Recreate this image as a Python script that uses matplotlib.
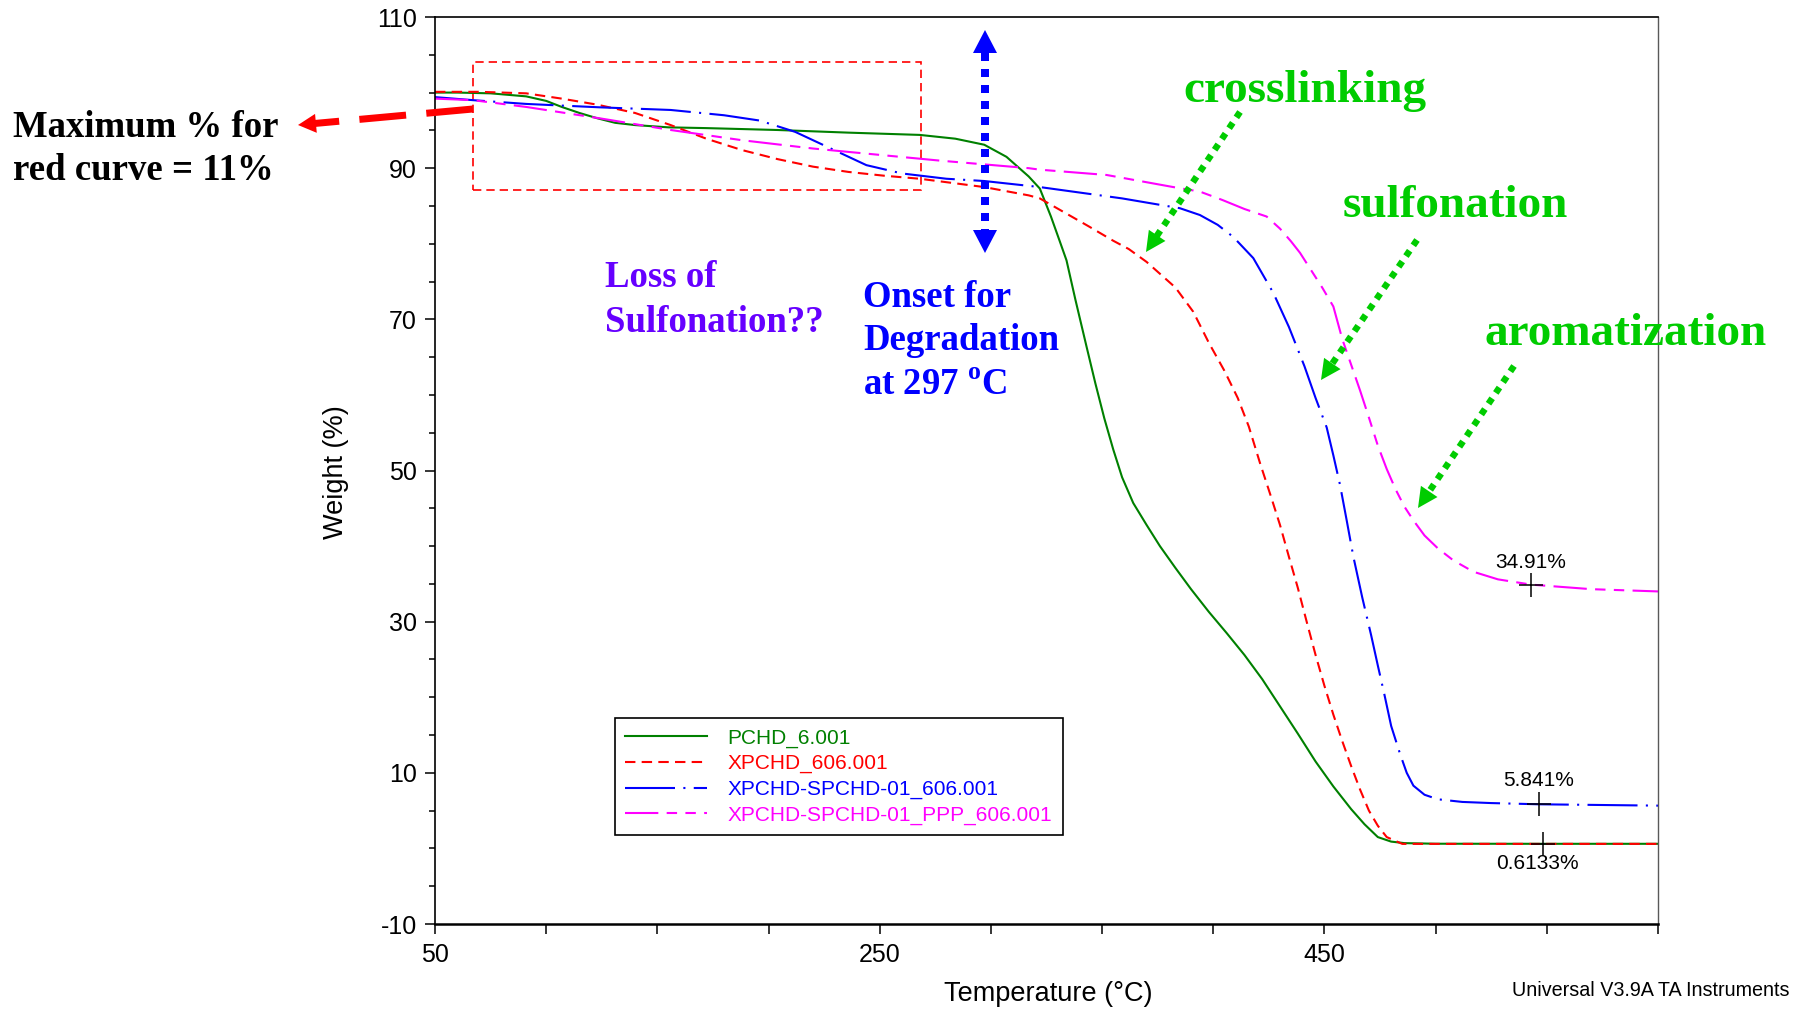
import matplotlib
matplotlib.use('Agg')
import matplotlib.pyplot as plt
from matplotlib.lines import Line2D
from matplotlib.patches import Polygon, Rectangle
import numpy as np

plt.rcParams['font.family'] = 'Liberation Sans'
plt.rcParams['axes.unicode_minus'] = False
plt.rcParams['mathtext.fontset'] = 'custom'
plt.rcParams['mathtext.rm'] = 'Liberation Serif'
plt.rcParams['mathtext.bf'] = 'Liberation Serif:bold'

W, H = 1805, 1011

# ---- data (temperature degC, weight %) ----
pchd_T = [50, 60, 75, 91, 100, 107, 115, 123, 131, 140, 155, 172, 204, 236, 268, 284,
          297, 307, 317, 322, 327, 331, 334, 338, 343, 347, 351, 355, 359, 364, 370, 376,
          383, 390, 398, 406, 414, 422, 430, 438, 446, 454, 462, 468, 474, 480, 486, 500,
          548, 600]
pchd_W = [100.0, 100.0, 99.9, 99.5, 98.9, 98.1, 97.3, 96.6, 96.0, 95.7, 95.4, 95.3, 95.05,
          94.7, 94.4, 93.9, 93.1, 91.5, 88.9, 87.3, 83.6, 80.3, 77.8, 72.6, 66.4, 61.5,
          56.9, 52.8, 49.1, 45.7, 42.8, 40.0, 37.1, 34.3, 31.3, 28.5, 25.6, 22.4, 18.8,
          15.2, 11.5, 8.2, 5.2, 3.2, 1.5, 0.9, 0.7, 0.62, 0.61, 0.61]

xpchd_T = [50, 70, 91, 107, 123, 140, 156, 172, 188, 204, 220, 236, 252, 268, 297, 317,
           322, 344, 355, 362, 370, 383, 391, 398, 405, 411, 416, 421, 426, 430, 434, 438,
           442, 446, 450, 454, 458, 462, 466, 470, 474, 478, 485, 500, 548, 600]
xpchd_W = [100.1, 100.1, 99.9, 99.2, 98.4, 97.3, 95.7, 93.9, 92.4, 91.2, 90.2, 89.5, 89.0,
           88.6, 87.5, 86.4, 86.0, 82.3, 80.4, 79.3, 77.6, 74.2, 71.0, 66.9, 63.2, 59.6,
           55.8, 51.0, 46.5, 42.8, 38.6, 34.5, 30.0, 25.6, 21.5, 17.7, 14.2, 10.9, 7.8,
           5.0, 3.0, 1.5, 0.6, 0.6, 0.6, 0.6]

spchd_T = [50, 67, 91, 124, 156, 180, 196, 212, 228, 244, 260, 280, 297, 322, 359, 385,
           394, 402, 409, 418, 427, 434, 441, 446, 451, 454, 457, 460, 463, 467, 471, 474,
           477, 480, 484, 487, 490, 495, 501, 512, 525, 546, 600]
spchd_W = [99.4, 99.0, 98.5, 98.05, 97.7, 97.0, 96.3, 94.8, 92.6, 90.4, 89.3, 88.6, 88.3,
           87.5, 86.0, 84.7, 83.8, 82.5, 80.9, 78.1, 73.5, 69.0, 63.8, 59.6, 55.7, 52.0,
           48.1, 43.4, 38.6, 33.2, 28.2, 24.2, 20.3, 16.2, 12.5, 10.0, 8.3, 7.1, 6.5, 6.15,
           6.0, 5.84, 5.66]

ppp_T = [50, 67, 91, 124, 156, 188, 220, 252, 277, 297, 317, 322, 352, 382, 394, 404,
         414, 424, 430, 435, 439, 444, 449, 454, 458, 462, 466, 470, 474, 478, 482, 486,
         490, 495, 501, 508, 517, 528, 543, 570, 600]
ppp_W = [99.2, 99.0, 98.1, 96.6, 95.05, 93.7, 92.6, 91.7, 91.0, 90.5, 90.0, 89.8, 89.1,
         87.5, 86.9, 85.8, 84.6, 83.6, 82.0, 80.3, 78.8, 76.5, 74.2, 71.7, 67.4, 64.0,
         60.6, 57.0, 53.3, 50.2, 47.5, 45.2, 43.4, 41.4, 39.7, 38.1, 36.6, 35.6, 34.9,
         34.3, 34.0]

series_names = ['PCHD_6.001', 'XPCHD_606.001', 'XPCHD-SPCHD-01_606.001',
                'XPCHD-SPCHD-01_PPP_606.001']

marker_T = [542.9, 546.3, 548.1]
marker_W = [34.9, 5.84, 0.61]
marker_labels = ['34.91%', '5.841%', '0.6133%']

x_major = [50, 250, 450]
y_major = [-10, 10, 30, 50, 70, 90, 110]


def fxy(X, Y):
    # full-size pixel (top-left origin) -> figure fraction
    return (X / W, 1 - Y / H)


fig = plt.figure(figsize=(W / 100, H / 100), dpi=100)
ax = fig.add_axes([435 / W, 1 - 924 / H, (1658 - 435) / W, (924 - 17) / H])

ax.plot(pchd_T, pchd_W, color='#008000', lw=1.5, label=series_names[0])
ax.plot(xpchd_T, xpchd_W, color='#ff0000', lw=1.5, ls=(0, (5, 3)), label=series_names[1])
ax.plot(spchd_T, spchd_W, color='#0000ff', lw=1.5, ls=(0, (24, 4, 1, 4)), label=series_names[2])
ax.plot(ppp_T, ppp_W, color='#ff00ff', lw=1.5, ls=(0, (16, 4, 5, 4, 5, 4)), label=series_names[3])

ax.plot(marker_T, marker_W, ls='none', marker='+', ms=17, mew=1.1, color='black')
offs = [(0, 12), (0, 13), (-4, -18)]
for t, w, s, o in zip(marker_T, marker_W, marker_labels, offs):
    ax.annotate(s, (t, w), xytext=o, textcoords='offset points', ha='center',
                va='baseline', fontsize=15, color='black')

ax.set_xlim(50, 600)
ax.set_ylim(-10, 110)
ax.set_xticks(x_major)
ax.set_xticks(np.arange(50, 601, 50), minor=True)
ax.set_yticks(y_major)
ax.set_yticks(np.arange(-10, 111, 5), minor=True)
ax.tick_params(which='major', direction='out', length=7, width=1.1, labelsize=18, pad=6)
ax.tick_params(which='minor', direction='out', length=4, width=1.1)
ax.tick_params(axis='x', which='minor', length=7)
ax.tick_params(axis='x', which='major', pad=7)
for sp in ax.spines.values():
    sp.set_linewidth(1.2)
ax.spines['right'].set_color('0.35')
ax.spines['right'].set_linewidth(1.0)
ax.spines['bottom'].set_linewidth(1.8)

fig.text(*fxy(1048, 1001), 'Temperature (\u00b0C)', fontsize=19.5, ha='center', va='baseline')
fig.text(*fxy(336, 472), 'Weight (%)', fontsize=19.5, ha='center', va='center', rotation=90)
fig.text(*fxy(1789, 996), 'Universal V3.9A TA Instruments', fontsize=14.2, ha='right', va='baseline')

leg = ax.legend(loc='upper left', bbox_to_anchor=fxy(615, 718), bbox_transform=fig.transFigure,
                fontsize=15, labelcolor='linecolor', frameon=True, fancybox=False,
                edgecolor='black', framealpha=1, handlelength=3.9, handletextpad=1.0,
                labelspacing=0.31, borderpad=0.5, borderaxespad=0)
leg.get_frame().set_linewidth(1.2)

# ---- annotations ----
rect = Rectangle((67.1, 87.1), 268.7 - 67.1, 104.0 - 87.1, fill=False, ec='#ff0000',
                 lw=1.2, ls=(0, (5, 3)))
ax.add_patch(rect)


def arrow(tail, tip, color, lw_px, dash, head_len, head_w, both=False):
    tail = np.array(tail, float)
    tip = np.array(tip, float)
    d = tip - tail
    u = d / np.hypot(*d)
    start = tail + u * head_len if both else tail
    end = tip - u * head_len * 0.9
    p0, p1 = fxy(*start), fxy(*end)
    fig.add_artist(Line2D([p0[0], p1[0]], [p0[1], p1[1]], color=color, lw=lw_px * 0.72,
                          ls=(0, dash), dash_capstyle='butt', transform=fig.transFigure))
    heads = [(tip, u)]
    if both:
        heads.append((tail, -u))
    for t, uu in heads:
        nn = np.array([-uu[1], uu[0]])
        base = t - uu * head_len
        pts = [t, base + nn * head_w / 2, base - nn * head_w / 2]
        fig.add_artist(Polygon([fxy(*p) for p in pts], closed=True, fc=color, ec='none',
                               transform=fig.transFigure))


arrow((473, 109), (298, 125), '#ff0000', 7, (6.7, 2.9), 18, 19)
arrow((985, 30), (985, 253), '#0000ff', 8, (1, 1), 23, 24, both=True)
arrow((1240, 112), (1146, 252), '#00cc00', 6.5, (1, 1), 20, 20)
arrow((1417, 240), (1321, 380), '#00cc00', 6.5, (1, 1), 20, 20)
arrow((1514, 366), (1418, 508), '#00cc00', 6.5, (1, 1), 20, 20)

serif = dict(family='Liberation Serif', weight='bold')


def put_lines(lines, X, baselines, color, size):
    for s, Y in zip(lines, baselines):
        fig.text(*fxy(X, Y), s, color=color, fontsize=size, ha='left', va='baseline', **serif)


put_lines(['Maximum % for', 'red curve = 11%'], 13, [137, 180], 'black', 26.5)
put_lines(['Loss of', 'Sulfonation??'], 605, [287, 332], '#6600ff', 26.5)
put_lines(['Onset for', 'Degradation', r'at 297 $^{\mathbf{o}}$C'], 863, [307, 350, 395],
          '#0000ff', 26.5)
put_lines(['crosslinking'], 1183, [102], '#00cc00', 34)
put_lines(['sulfonation'], 1343, [217], '#00cc00', 34)
put_lines(['aromatization'], 1485, [345], '#00cc00', 34)

fig.savefig('out.png', dpi=100)
